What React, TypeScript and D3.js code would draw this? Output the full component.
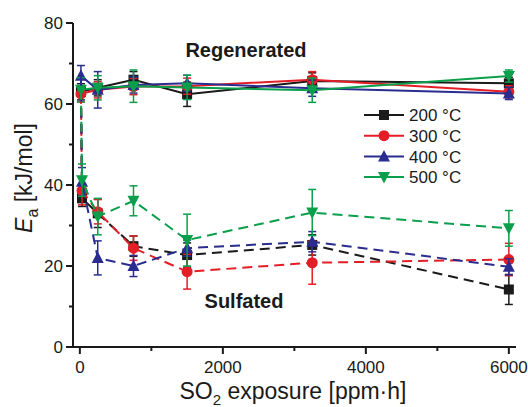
import React from "react";
import * as d3 from "d3";

const series = ["200 °C", "300 °C", "400 °C", "500 °C"];
const colors = ["#1a1a1a", "#e41e26", "#2a2d8f", "#0a9f4a"];
const markers = ["square", "circle", "triangle", "triangleDown"];

const regenX = [15, 250, 750, 1500, 3250, 6000];
const regen200 = [63, 64, 66, 62.4, 65.7, 65.1];
const regen300 = [62.5, 63.5, 64.3, 64.4, 66, 63];
const regen400 = [67, 63.5, 64.7, 65.1, 63.9, 62.6];
const regen500 = [63.5, 64, 64.4, 64.1, 63.4, 66.9];
const regenErr200 = [2, 2, 2, 3, 2, 1.5];
const regenErr300 = [2, 2, 2, 2, 2, 1.5];
const regenErr400 = [2.5, 4.5, 2, 2, 2, 1.5];
const regenErr500 = [3, 3, 4, 3, 3, 1.5];

const sulfX = [15, 30, 250, 750, 1500, 3250, 6000];
const sulf200 = [63, 36.7, 33, 24.9, 22.7, 25.2, 14.2];
const sulf300 = [62.5, 38.6, 33.4, 24.4, 18.6, 20.8, 21.6];
const sulf400 = [67, 40.8, 22, 20, 24.4, 26, 19.8];
const sulf500 = [63.5, 41.2, 32.2, 36.1, 26.4, 33.2, 29.3];
const sulfErr200 = [0, 2, 3.5, 2.5, 3, 2.5, 3.7];
const sulfErr300 = [0, 3.5, 3, 3, 4.3, 5.3, 4];
const sulfErr400 = [0, 3.5, 4.2, 2.6, 2, 2.5, 2];
const sulfErr500 = [0, 4, 4.5, 3.7, 6.4, 5.7, 4.4];

const xTicks = [0, 2000, 4000, 6000];
const xMinor = [1000, 3000, 5000];
const yTicks = [0, 20, 40, 60, 80];
const yMinor = [10, 30, 50, 70];

const regenVals = [regen200, regen300, regen400, regen500];
const regenErrs = [regenErr200, regenErr300, regenErr400, regenErr500];
const sulfVals = [sulf200, sulf300, sulf400, sulf500];
const sulfErrs = [sulfErr200, sulfErr300, sulfErr400, sulfErr500];

const x = d3.scaleLinear().domain([-110, 6100]).range([72, 516]);
const y = d3.scaleLinear().domain([0, 80]).range([347, 23]);

const font = "Liberation Sans, Arial, sans-serif";

function Marker({ type, cx, cy, color, s = 5 }: any) {
  if (type === "square")
    return <rect x={cx - s} y={cy - s} width={2 * s} height={2 * s} fill={color} />;
  if (type === "circle") return <circle cx={cx} cy={cy} r={s + 0.5} fill={color} />;
  if (type === "triangle")
    return (
      <path
        d={`M${cx},${cy - s - 1.5} L${cx + s + 1},${cy + s} L${cx - s - 1},${cy + s} Z`}
        fill={color}
      />
    );
  return (
    <path
      d={`M${cx},${cy + s + 1.5} L${cx + s + 1},${cy - s} L${cx - s - 1},${cy - s} Z`}
      fill={color}
    />
  );
}

export default function App() {
  const line = d3
    .line<[number, number]>()
    .x((d) => x(d[0]))
    .y((d) => y(d[1]));

  const drawSeries = (xs: number[], vals: number[], errs: number[], i: number, dashed: boolean) => {
    const pts = xs.map((xv, j) => [xv, vals[j]] as [number, number]);
    return (
      <g key={(dashed ? "s" : "r") + i}>
        <path
          d={line(pts) || ""}
          fill="none"
          stroke={colors[i]}
          strokeWidth={2}
          strokeDasharray={dashed ? "10,6" : undefined}
        />
        {pts.map((p, j) => {
          if (dashed && j === 0) return null;
          const e = errs[j];
          const cx = x(p[0]);
          return (
            <g key={j}>
              {e > 0 && (
                <g stroke={colors[i]} strokeWidth={1.5}>
                  <line x1={cx} x2={cx} y1={y(p[1] - e)} y2={y(p[1] + e)} />
                  <line x1={cx - 4} x2={cx + 4} y1={y(p[1] - e)} y2={y(p[1] - e)} />
                  <line x1={cx - 4} x2={cx + 4} y1={y(p[1] + e)} y2={y(p[1] + e)} />
                </g>
              )}
              <Marker type={markers[i]} cx={cx} cy={y(p[1])} color={colors[i]} />
            </g>
          );
        })}
      </g>
    );
  };

  return (
    <svg width={528} height={407} style={{ position: "absolute", left: 0, top: 0 }} fontFamily={font}>
      <rect width={528} height={407} fill="white" />
      <g stroke="#1a1a1a" strokeWidth={2}>
        <line x1={73} x2={73} y1={y(80)} y2={348} />
        <line x1={72} x2={516} y1={347} y2={347} />
        {yTicks.map((t) => (
          <line key={"yt" + t} x1={66} x2={73} y1={y(t)} y2={y(t)} />
        ))}
        {yMinor.map((t) => (
          <line key={"ym" + t} x1={69} x2={73} y1={y(t)} y2={y(t)} />
        ))}
        {xTicks.map((t) => (
          <line key={"xt" + t} x1={x(t)} x2={x(t)} y1={347} y2={354} />
        ))}
        {xMinor.map((t) => (
          <line key={"xm" + t} x1={x(t)} x2={x(t)} y1={347} y2={351} />
        ))}
      </g>
      <g fontSize={17} fill="#1a1a1a">
        {yTicks.map((t) => (
          <text key={"yl" + t} x={63} y={y(t)} dy="0.36em" textAnchor="end">
            {t}
          </text>
        ))}
        {xTicks.map((t) => (
          <text key={"xl" + t} x={x(t)} y={373} textAnchor="middle">
            {t}
          </text>
        ))}
      </g>
      <text x={293} y={399} textAnchor="middle" fontSize={23} fill="#1a1a1a">
        SO<tspan fontSize={15} dy={6}>2</tspan>
        <tspan dy={-6}> exposure [ppm·h]</tspan>
      </text>
      <text transform="translate(32,178) rotate(-90)" textAnchor="middle" fontSize={23} fill="#1a1a1a">
        <tspan fontStyle="italic">E</tspan>
        <tspan fontSize={16} dy={6}>a</tspan>
        <tspan dy={-6}> [kJ/mol]</tspan>
      </text>
      <text x={246} y={57} textAnchor="middle" fontSize={20} fontWeight="bold" fill="#1a1a1a">
        Regenerated
      </text>
      <text x={244} y={308} textAnchor="middle" fontSize={20} fontWeight="bold" fill="#1a1a1a">
        Sulfated
      </text>
      {regenVals.map((v, i) => drawSeries(regenX, v, regenErrs[i], i, false))}
      {sulfVals.map((v, i) => drawSeries(sulfX, v, sulfErrs[i], i, true))}
      {series.map((s, i) => {
        const ly = 115 + i * 20.7;
        return (
          <g key={"lg" + i}>
            <line x1={364} x2={404} y1={ly} y2={ly} stroke={colors[i]} strokeWidth={2} />
            <Marker type={markers[i]} cx={384} cy={ly} color={colors[i]} />
            <text x={409} y={ly} dy="0.36em" fontSize={17} fill="#1a1a1a">
              {s}
            </text>
          </g>
        );
      })}
    </svg>
  );
}
